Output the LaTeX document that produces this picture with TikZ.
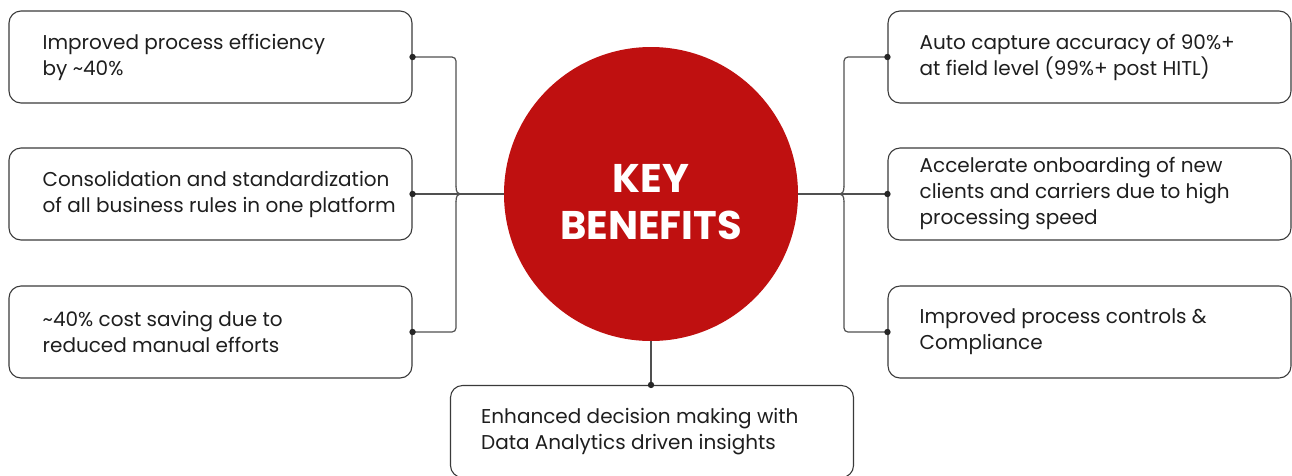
\documentclass[tikz,border=0pt]{standalone}
\usepackage{fontspec}
\setmainfont{Poppins}
\usetikzlibrary{calc}
\definecolor{keyred}{HTML}{BF1010}
\definecolor{linegray}{HTML}{505050}
\definecolor{boxgray}{HTML}{3A3A3A}
\definecolor{txtcol}{HTML}{1E1E1E}
\begin{document}
\begin{tikzpicture}[x=1pt,y=-1pt,
  benefitbox/.style={draw=boxgray, line width=1.1pt, rounded corners=12pt, minimum width=403pt, minimum height=92pt, inner sep=0pt},
  benefittxt/.style={anchor=west, align=left, inner sep=0pt, text=txtcol, font=\fontsize{20}{26}\selectfont},
  conn/.style={draw=linegray, line width=1.2pt},
  dotmark/.style={fill=black!85},
]
\useasboundingbox (0,0) rectangle (1292,475);

% center circle
\node[circle, fill=keyred, minimum size=294pt, inner sep=0pt] (key) at (651,194) {};
\node[text=white, align=center, inner sep=0pt,
      font=\fontsize{40}{47}\selectfont\bfseries] (keytxt) at (651,202) {KEY\\BENEFITS};

% boxes
\node[benefitbox] (l1) at (210.5,57) {};
\node[benefitbox] (l2) at (210.5,194) {};
\node[benefitbox] (l3) at (210.5,332) {};
\node[benefitbox] (r1) at (1089.5,57) {};
\node[benefitbox] (r2) at (1089.5,194) {};
\node[benefitbox] (r3) at (1089.5,332) {};
\node[benefitbox] (bt) at (652,431.5) {};

% texts
\node[benefittxt] (tl1) at ($(l1.west)+(34,0)$) {Improved process efficiency\\by \textasciitilde40\%};
\node[benefittxt] (tl2) at ($(l2.west)+(34,0)$) {Consolidation and standardization\\of all business rules in one platform};
\node[benefittxt] (tl3) at ($(l3.west)+(34,0)$) {\textasciitilde40\% cost saving due to\\reduced manual efforts};
\node[benefittxt] (tr1) at ($(r1.west)+(32,0)$) {Auto capture accuracy of 90\%+\\at field level (99\%+ post HITL)};
\node[benefittxt] (tr2) at ($(r2.west)+(32,0)$) {Accelerate onboarding of new\\clients and carriers due to high\\processing speed};
\node[benefittxt] (tr3) at ($(r3.west)+(32,0)$) {Improved process controls \&\\Compliance};
\node[benefittxt] (tbt) at ($(bt.west)+(31,0)$) {Enhanced decision making with\\Data Analytics driven insights};

% junction coordinates
\coordinate (xl) at (456,0);
\coordinate (xr) at (844,0);

% left connectors
\draw[conn] (l2.east) -- (key.west);
\draw[conn, rounded corners=4pt] (l1.east) -- (l1.east -| xl) -- ($(l2.east -| xl)+(0,-7)$);
\draw[conn] ($(l2.east -| xl)+(0,-7.5)$) .. controls ($(l2.east -| xl)+(0,-2)$) and ($(l2.east -| xl)+(2,0)$) .. ($(l2.east -| xl)+(4,0)$)
            .. controls ($(l2.east -| xl)+(2,0)$) and ($(l2.east -| xl)+(0,2)$) .. ($(l2.east -| xl)+(0,7.5)$);
\draw[conn, rounded corners=4pt] ($(l2.east -| xl)+(0,7)$) -- (l3.east -| xl) -- (l3.east);

% right connectors
\draw[conn] (key.east) -- (r2.west);
\draw[conn, rounded corners=4pt] (r1.west) -- (r1.west -| xr) -- ($(r2.west -| xr)+(0,-7)$);
\draw[conn] ($(r2.west -| xr)+(0,-7.5)$) .. controls ($(r2.west -| xr)+(0,-2)$) and ($(r2.west -| xr)+(-2,0)$) .. ($(r2.west -| xr)+(-4,0)$)
            .. controls ($(r2.west -| xr)+(-2,0)$) and ($(r2.west -| xr)+(0,2)$) .. ($(r2.west -| xr)+(0,7.5)$);
\draw[conn, rounded corners=4pt] ($(r2.west -| xr)+(0,7)$) -- (r3.west -| xr) -- (r3.west);

% bottom connector
\draw[conn] (key.south) -- (key.south |- bt.north);

% dots
\foreach \p in {l1.east,l2.east,l3.east,r1.west,r2.west,r3.west}
  \fill[dotmark] (\p) circle (3.2);
\fill[dotmark] (key.south |- bt.north) circle (3.2);
\end{tikzpicture}
\end{document}
